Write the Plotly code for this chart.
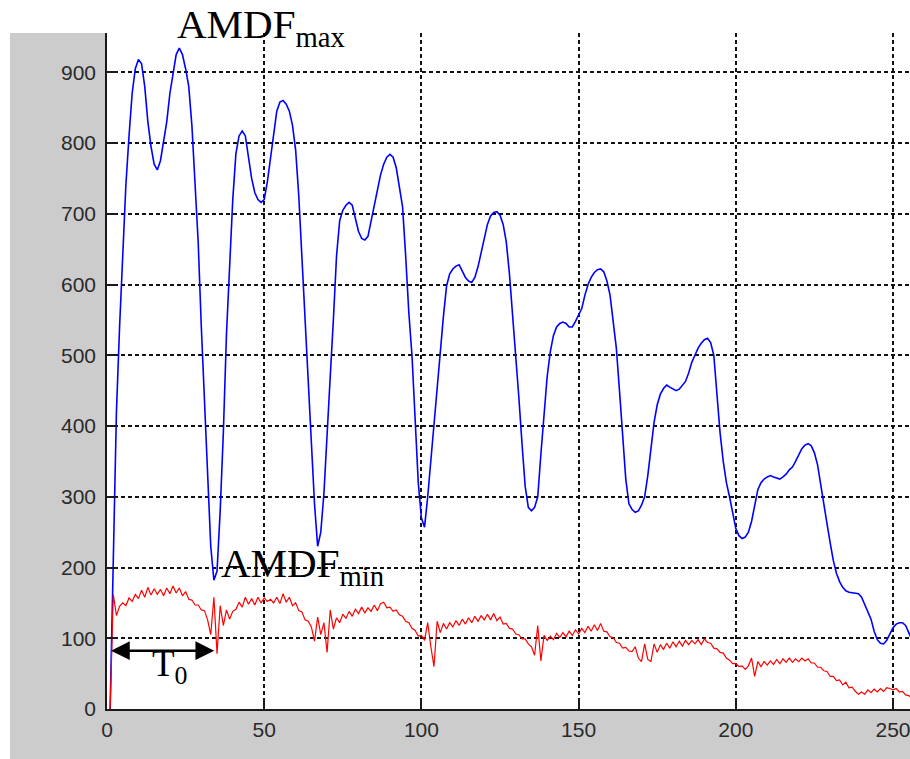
import plotly.graph_objects as go

# ---- data ----
lag = list(range(1, 257))

amdf_max = [
    0, 230, 420, 540, 640, 740, 810, 870, 905, 918,
    912, 880, 830, 795, 770, 762, 775, 800, 830, 870,
    900, 925, 934, 925, 905, 880, 825, 745, 660, 540,
    440, 320, 230, 182, 195, 280, 390, 530, 620, 720,
    785, 810, 817, 810, 780, 750, 730, 720, 716, 720,
    745, 780, 815, 845, 858, 860, 855, 845, 825, 790,
    725, 640, 560, 470, 385, 290, 230, 250, 305, 380,
    470, 550, 640, 690, 705, 712, 716, 712, 695, 675,
    665, 663, 668, 690, 715, 735, 755, 770, 780, 784,
    780, 765, 740, 710, 640, 560, 500, 410, 320, 270,
    257, 300, 350, 405, 455, 510, 555, 598, 615, 622,
    626, 628, 620, 610, 605, 603, 610, 625, 645, 665,
    685, 697, 702, 703, 698, 685, 660, 615, 560, 505,
    440, 375, 315, 285, 280, 285, 300, 360, 420, 470,
    505, 528, 540, 545, 547, 545, 540, 540, 548, 556,
    566, 585, 600, 610, 617, 621, 622, 618, 605, 585,
    550, 510, 450, 390, 325, 290, 282, 278, 280, 288,
    300, 330, 370, 405, 430, 445, 453, 458, 455, 452,
    450, 452, 458, 463, 475, 490, 500, 510, 517, 522,
    524, 518, 500, 440, 390, 350, 320, 300, 275, 255,
    245, 241, 243, 250, 265, 290, 310, 320, 325, 328,
    330, 328, 326, 325, 328, 332, 338, 342, 350, 360,
    368, 373, 375, 372, 362, 345, 315, 290, 262, 235,
    210, 192, 180, 172, 167, 165, 164, 164, 163, 158,
    148, 137, 127, 110, 98, 93, 92, 97, 106, 115,
    120, 122, 122, 118, 108, 98,
]

amdf_min = [
    0, 162, 132, 145, 150, 146, 157, 152, 162, 156,
    168, 158, 172, 161, 170, 162, 169, 160, 171, 163,
    174, 164, 171, 160, 166, 155, 154, 147, 147, 140,
    139, 126, 105, 158, 78, 146, 118, 140, 127, 138,
    141, 151, 144, 158, 148, 156, 147, 158, 150, 157,
    152, 155, 150, 158, 149, 163, 151, 158, 146, 150,
    139, 137, 126, 124, 116, 96, 130, 105, 122, 80,
    140, 113, 129, 122, 134, 128, 138, 131, 141, 135,
    144, 136, 143, 138, 147, 139, 149, 151, 143, 144,
    138, 140, 133, 131, 124, 122, 114, 111, 103, 104,
    97, 122, 88, 60, 124, 108, 121, 113, 122, 116,
    125, 118, 127, 120, 129, 122, 131, 124, 132, 126,
    134, 126, 135, 125, 130, 120, 121, 114, 113, 106,
    105, 99, 99, 92, 88, 76, 118, 68, 104, 97,
    103, 98, 107, 101, 108, 102, 110, 104, 112, 106,
    114, 108, 117, 110, 119, 111, 121, 110, 109, 102,
    101, 94, 93, 86, 87, 82, 81, 88, 72, 67,
    92, 70, 67, 92, 80, 91, 84, 93, 86, 95,
    88, 96, 89, 97, 91, 97, 92, 98, 91, 99,
    94, 93, 86, 85, 80, 79, 72, 69, 64, 64,
    60, 61, 56, 61, 72, 46, 67, 60, 67, 62,
    68, 63, 70, 64, 71, 66, 72, 66, 71, 67,
    72, 68, 71, 65, 65, 59, 59, 54, 53, 46,
    46, 40, 41, 34, 38, 30, 31, 25, 21, 24,
    21, 27, 23, 28, 24, 29, 25, 30, 29, 27,
    29, 24, 25, 20, 19, 15,
]

x_ticks = [0, 50, 100, 150, 200, 250]
y_ticks = [0, 100, 200, 300, 400, 500, 600, 700, 800, 900]

# T0 marker (period) and label positions in data units
t0_start, t0_end, t0_level = 0.8, 34.1, 82.4

fig = go.Figure()
fig.add_trace(go.Scatter(x=lag, y=amdf_max, mode="lines",
                         line=dict(color="#0000ff", width=1.6),
                         showlegend=False, hoverinfo="skip"))
fig.add_trace(go.Scatter(x=lag, y=amdf_min, mode="lines",
                         line=dict(color="#ff0000", width=1.2),
                         showlegend=False, hoverinfo="skip"))

tickfont = dict(family="Liberation Sans, Arial, sans-serif", size=21, color="#2a2a2a")
axis_common = dict(showline=True, linecolor="#1a1a1a", linewidth=1.5,
                   ticks="inside", ticklen=10, tickwidth=1.5, tickcolor="#1a1a1a",
                   showgrid=True, gridcolor="#111111", gridwidth=1.5, griddash="4px,3px",
                   zeroline=False, tickfont=tickfont, mirror=False,
                   ticklabeloverflow="allow")

fig.update_xaxes(range=[0, 255.4], tickvals=x_ticks, ticktext=[str(v) for v in x_ticks],
                 ticklabelstandoff=1, **axis_common)
fig.update_yaxes(range=[0, 955.5], tickvals=y_ticks, ticktext=[str(v) for v in y_ticks],
                 ticklabelstandoff=5, **axis_common)

gray = "#cccccc"
serif = "Liberation Serif, Times New Roman, serif"
fig.update_layout(
    width=910, height=759,
    margin=dict(l=107, r=0, t=33, b=50, pad=0),
    paper_bgcolor="white", plot_bgcolor="white",
    shapes=[
        dict(type="rect", xref="paper", yref="paper", x0=-0.1208, x1=0, y0=-0.075, y1=1,
             fillcolor=gray, line=dict(width=0), layer="below"),
        dict(type="rect", xref="paper", yref="paper", x0=0, x1=1.01, y0=-0.075, y1=0,
             fillcolor=gray, line=dict(width=0), layer="below"),
    ],
    annotations=[
        dict(x=21.6, y=925, xref="x", yref="y", text="AMDF<sub>max</sub>",
             showarrow=False, xanchor="left", yanchor="bottom",
             font=dict(family=serif, size=41, color="black")),
        dict(x=35.7, y=162, xref="x", yref="y", text="AMDF<sub>min</sub>",
             showarrow=False, xanchor="left", yanchor="bottom",
             font=dict(family=serif, size=41, color="black")),
        dict(x=13.6, y=24, xref="x", yref="y", text="T<sub>0</sub>",
             showarrow=False, xanchor="left", yanchor="bottom",
             font=dict(family=serif, size=37, color="black")),
        dict(x=t0_end, y=t0_level, ax=t0_start, ay=t0_level, xref="x", yref="y",
             axref="x", ayref="y", text="", showarrow=True,
             arrowhead=2, startarrowhead=2, arrowside="end+start",
             arrowwidth=2.5, arrowsize=1.5, startarrowsize=1.5,
             arrowcolor="black", standoff=0, startstandoff=0),
    ],
)

fig.write_html("out.html")
